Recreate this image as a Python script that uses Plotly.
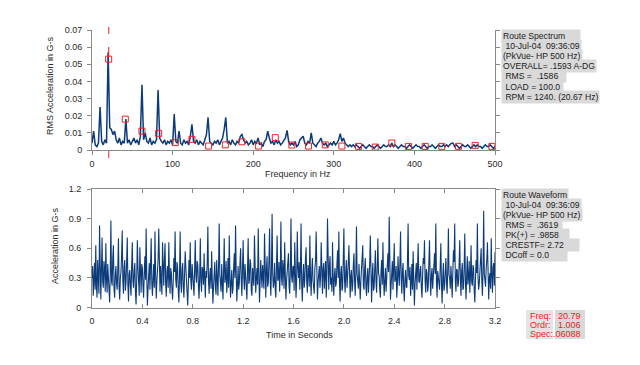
import numpy as np
import plotly.graph_objects as go

# ---------------- data ----------------
spec_step_hz = 2
spectrum_g = [
    0.004, 0.011, 0.003, 0.002, 0.004, 0.025, 0.005, 0.003, 0.006, 0.004,
    0.057, 0.013, 0.012, 0.009, 0.011, 0.006, 0.004, 0.007, 0.003, 0.005,
    0.004, 0.018, 0.004, 0.006, 0.003, 0.005, 0.007, 0.004, 0.006, 0.003,
    0.008, 0.038, 0.006, 0.010, 0.005, 0.004, 0.007, 0.003, 0.005, 0.004,
    0.006, 0.035, 0.007, 0.005, 0.004, 0.006, 0.003, 0.005, 0.004, 0.006,
    0.003, 0.021, 0.005, 0.004, 0.011, 0.004, 0.003, 0.006, 0.004, 0.005,
    0.003, 0.008, 0.015, 0.005, 0.004, 0.006, 0.003, 0.005, 0.004, 0.003,
    0.006, 0.009, 0.019, 0.005, 0.004, 0.003, 0.005, 0.004, 0.006, 0.003,
    0.005, 0.007, 0.012, 0.019, 0.004, 0.005, 0.003, 0.006, 0.004, 0.003,
    0.005, 0.004, 0.008, 0.009, 0.006, 0.004, 0.005, 0.003, 0.004, 0.006,
    0.003, 0.005, 0.004, 0.007, 0.003, 0.004, 0.002, 0.005, 0.006, 0.011,
    0.007, 0.004, 0.005, 0.003, 0.006, 0.004, 0.005, 0.003, 0.004, 0.006,
    0.007, 0.0115, 0.005, 0.003, 0.004, 0.003, 0.005, 0.002, 0.003, 0.006,
    0.007, 0.008, 0.004, 0.003, 0.005, 0.004, 0.010, 0.004, 0.003, 0.002,
    0.004, 0.005, 0.007, 0.004, 0.003, 0.004, 0.002, 0.003, 0.004, 0.003,
    0.005, 0.003, 0.004, 0.006, 0.0095, 0.005, 0.007, 0.004, 0.003, 0.002,
    0.003, 0.002, 0.003, 0.002, 0.003, 0.002, 0.001, 0.002, 0.003, 0.002,
    0.001, 0.002, 0.003, 0.002, 0.002, 0.001, 0.002, 0.003, 0.002, 0.001,
    0.002, 0.003, 0.002, 0.002, 0.003, 0.002, 0.004, 0.002, 0.003, 0.002,
    0.001, 0.002, 0.003, 0.002, 0.002, 0.001, 0.002, 0.003, 0.002, 0.001,
    0.002, 0.003, 0.002, 0.002, 0.001, 0.002, 0.003, 0.002, 0.001, 0.002,
    0.002, 0.003, 0.002, 0.001, 0.002, 0.003, 0.002, 0.002, 0.003, 0.002,
    0.003, 0.002, 0.003, 0.004, 0.004, 0.002, 0.003, 0.002, 0.001, 0.002,
    0.003, 0.002, 0.002, 0.003, 0.002, 0.001, 0.002, 0.003, 0.002, 0.003,
    0.002, 0.002, 0.001, 0.002, 0.003, 0.002, 0.002, 0.003, 0.002, 0.001,
    0.002,
]

harmonic_hz = [20.7, 41.3, 62.0, 82.7, 103.4, 124.0, 144.7, 165.4, 186.0, 206.7,
               227.4, 248.0, 268.7, 289.4, 310.0, 330.7, 351.4, 372.0, 392.7, 413.4,
               434.0, 454.7, 475.4, 496.1]
harmonic_g = [0.053, 0.018, 0.011, 0.0097, 0.0043, 0.0062, 0.0023, 0.003, 0.0048, 0.0023,
              0.0072, 0.0029, 0.0023, 0.003, 0.0023, 0.0021, 0.0017, 0.0041, 0.0021, 0.0021,
              0.0021, 0.0021, 0.0027, 0.0021]

cursor_hz = 20.79

wave_dt = 0.005
waveform_g = [
    0.30, 0.42, 0.12, 0.25, 0.45, 0.18, 0.63, 0.22, 0.10, 0.48, 0.35, 0.14, 0.83, 0.30, 0.08, 0.38, 0.71, 0.26, 0.20, 0.47,
    0.40, 0.16, 0.65, 0.28, 0.15, 0.44, 0.32, 0.11, 0.05, 0.36, 0.88, 0.27, 0.22, 0.50, 0.63, 0.19, 0.10, 0.33, 0.42, 0.24,
    0.18, 0.39, 0.70, 0.21, 0.08, 0.30, 0.36, 0.52, 0.78, 0.26, 0.14, 0.41, 0.48, 0.17, 0.25, 0.46, 0.71, 0.23, 0.06, 0.34,
    0.38, 0.22, 0.12, 0.43, 0.66, 0.27, 0.20, 0.37, 0.45, 0.15, 0.03, 0.29, 0.68, 0.40, 0.30, 0.12, 0.61, 0.33, 0.15, 0.44,
    0.40, 0.21, 0.10, 0.36, 0.52, 0.28, 0.80, 0.31, 0.02, 0.19, 0.35, 0.45, 0.18, 0.39, 0.70, 0.24, 0.12, 0.30, 0.44, 0.20,
    0.77, 0.34, 0.09, 0.26, 0.38, 0.49, 0.80, 0.29, 0.16, 0.42, 0.30, 0.13, 0.66, 0.35, 0.22, 0.47, 0.65, 0.24, 0.11, 0.37,
    0.42, 0.20, 0.66, 0.31, 0.14, 0.40, 0.35, 0.18, 0.08, 0.27, 0.50, 0.36, 0.77, 0.28, 0.20, 0.46, 0.40, 0.17, 0.05, 0.33,
    0.77, 0.25, 0.15, 0.38, 0.45, 0.21, 0.10, 0.33, 0.57, 0.41, 0.28, 0.12, 0.02, 0.24, 0.48, 0.30, 0.66, 0.27, 0.18, 0.44,
    0.36, 0.19, 0.12, 0.40, 0.68, 0.32, 0.25, 0.47, 0.43, 0.22, 0.09, 0.31, 0.70, 0.26, 0.16, 0.41, 0.38, 0.23, 0.55, 0.29,
    0.10, 0.37, 0.30, 0.45, 0.82, 0.27, 0.14, 0.33, 0.40, 0.19, 0.57, 0.28, 0.04, 0.21, 0.35, 0.46, 0.20, 0.13, 0.48, 0.31,
    0.12, 0.43, 0.85, 0.33, 0.22, 0.16, 0.44, 0.29, 0.08, 0.38, 0.70, 0.25, 0.30, 0.47, 0.15, 0.27, 0.50, 0.20, 0.73, 0.32,
    0.10, 0.26, 0.38, 0.14, 0.20, 0.41, 0.55, 0.30, 0.83, 0.35, 0.06, 0.23, 0.42, 0.18, 0.25, 0.45, 0.60, 0.28, 0.12, 0.39,
    0.68, 0.31, 0.18, 0.44, 0.36, 0.20, 0.08, 0.35, 0.70, 0.24, 0.28, 0.49, 0.45, 0.17, 0.12, 0.40, 0.30, 0.22, 0.73, 0.27,
    0.15, 0.29, 0.40, 0.23, 0.80, 0.36, 0.05, 0.26, 0.48, 0.32, 0.20, 0.43, 0.33, 0.19, 0.75, 0.30, 0.10, 0.37, 0.52, 0.21,
    0.25, 0.47, 0.80, 0.28, 0.12, 0.39, 0.95, 0.34, 0.20, 0.26, 0.45, 0.18, 0.10, 0.42, 0.73, 0.27, 0.30, 0.46, 0.16, 0.35,
    0.87, 0.30, 0.22, 0.48, 0.40, 0.19, 0.66, 0.33, 0.08, 0.27, 0.35, 0.44, 0.55, 0.21, 0.14, 0.38, 0.90, 0.32, 0.25, 0.41,
    0.42, 0.17, 0.66, 0.35, 0.10, 0.29, 0.77, 0.40, 0.30, 0.46, 0.18, 0.37, 0.85, 0.24, 0.06, 0.31, 0.44, 0.20, 0.28, 0.49,
    0.61, 0.26, 0.15, 0.43, 0.38, 0.21, 0.73, 0.30, 0.12, 0.36, 0.50, 0.27, 0.22, 0.14, 0.40, 0.47, 0.77, 0.32, 0.08, 0.25,
    0.35, 0.42, 0.20, 0.31, 0.66, 0.24, 0.14, 0.39, 0.45, 0.19, 0.28, 0.47, 0.10, 0.34, 0.90, 0.29, 0.18, 0.41, 0.52, 0.23,
    0.30, 0.16, 0.66, 0.28, 0.12, 0.33, 0.40, 0.21, 0.25, 0.44, 0.58, 0.30, 0.77, 0.26, 0.06, 0.35, 0.42, 0.17, 0.20, 0.48,
    0.80, 0.29, 0.15, 0.37, 0.48, 0.20, 0.30, 0.45, 0.63, 0.25, 0.10, 0.32, 0.38, 0.16, 0.22, 0.43, 0.55, 0.27, 0.12, 0.36,
    0.82, 0.34, 0.26, 0.19, 0.44, 0.29, 0.08, 0.27, 0.36, 0.48, 0.63, 0.22, 0.18, 0.39, 0.50, 0.21, 0.12, 0.31, 0.40, 0.15,
    0.28, 0.44, 0.73, 0.24, 0.05, 0.30, 0.45, 0.17, 0.20, 0.39, 0.58, 0.26, 0.15, 0.41, 0.70, 0.35, 0.32, 0.18, 0.10, 0.37,
    0.48, 0.23, 0.66, 0.31, 0.12, 0.27, 0.40, 0.16, 0.25, 0.43, 0.55, 0.36, 0.92, 0.30, 0.08, 0.22, 0.35, 0.47, 0.18, 0.33,
    0.65, 0.26, 0.30, 0.42, 0.10, 0.24, 0.52, 0.33, 0.22, 0.46, 0.77, 0.29, 0.14, 0.37, 0.45, 0.19, 0.06, 0.28, 0.38, 0.21,
    0.20, 0.47, 0.85, 0.32, 0.28, 0.41, 0.12, 0.25, 0.44, 0.18, 0.57, 0.30, 0.02, 0.23, 0.36, 0.45, 0.18, 0.34, 0.65, 0.27,
    0.25, 0.38, 0.42, 0.20, 0.10, 0.31, 0.50, 0.44, 0.68, 0.27, 0.15, 0.39, 0.35, 0.16, 0.22, 0.46, 0.68, 0.29, 0.12, 0.33,
    0.40, 0.19, 0.28, 0.47, 0.55, 0.34, 0.85, 0.26, 0.10, 0.37, 0.32, 0.21, 0.18, 0.42, 0.65, 0.24, 0.04, 0.30, 0.45, 0.17,
    0.22, 0.36, 0.50, 0.25, 0.14, 0.40, 0.80, 0.33, 0.30, 0.19, 0.42, 0.28, 0.10, 0.35, 0.58, 0.46, 0.85, 0.27, 0.16, 0.39,
    0.38, 0.21, 0.25, 0.44, 0.68, 0.29, 0.12, 0.36, 0.45, 0.18, 0.20, 0.41, 0.75, 0.27, 0.08, 0.33, 0.52, 0.23, 0.30, 0.47,
    0.15, 0.32, 0.63, 0.26, 0.22, 0.43, 0.40, 0.17, 0.05, 0.29, 0.48, 0.35, 0.85, 0.31, 0.18, 0.24, 0.35, 0.45, 0.60, 0.28,
    0.12, 0.37, 0.98, 0.34, 0.26, 0.21, 0.40, 0.48, 0.66, 0.25, 0.08, 0.30, 0.35, 0.19, 0.70, 0.33, 0.15, 0.41, 0.45, 0.22,
    0.56,
]

spec_ticks = [0, 100, 200, 300, 400, 500]
spec_yticks = [0, 0.01, 0.02, 0.03, 0.04, 0.05, 0.06, 0.07]
spec_yticktext = ["0", "0.01", "0.02", "0.03", "0.04", "0.05", "0.06", "0.07"]
wave_ticks = [0, 0.4, 0.8, 1.2, 1.6, 2.0, 2.4, 2.8, 3.2]
wave_ticktext = ["0", "0.4", "0.8", "1.2", "1.6", "2.0", "2.4", "2.8", "3.2"]
wave_yticks = [0, 0.3, 0.6, 0.9, 1.2]
wave_yticktext = ["0", "0.3", "0.6", "0.9", "1.2"]

spectrum_info = [
    "Route Spectrum\u00a0\u00a0\u00a0\u00a0\u00a0\u00a0",
    "\u00a010-Jul-04\u00a0\u00a009:36:09",
    "(PkVue- HP 500 Hz)",
    "OVERALL= .1593 A-DG",
    "\u00a0RMS =\u00a0\u00a0.1586\u00a0\u00a0\u00a0",
    "\u00a0LOAD = 100.0\u00a0",
    "\u00a0RPM = 1240. (20.67 Hz)",
]
waveform_info = [
    "Route Waveform",
    "\u00a010-Jul-04\u00a0\u00a009:36:09",
    "(PkVue- HP 500 Hz)",
    "\u00a0RMS =\u00a0\u00a0.3619\u00a0",
    "\u00a0PK(+) = .9858\u00a0\u00a0\u00a0\u00a0",
    "\u00a0CRESTF= 2.72\u00a0\u00a0\u00a0\u00a0\u00a0\u00a0",
    "\u00a0DCoff = 0.0\u00a0\u00a0\u00a0\u00a0\u00a0\u00a0\u00a0",
]
cursor_labels = ["Freq:", "Ordr:", "Spec:"]
cursor_values = ["20.79", "1.006", ".06088"]

# ---------------- figure ----------------
# the page body adds an 8px offset, so the figure is laid out in window pixels
OFF = 8
W, H = 624, 349
def px(x):
    return (x - OFF) / W
def py(y):
    return (H - (y - OFF)) / H

freq = np.arange(len(spectrum_g)) * spec_step_hz
t = np.arange(len(waveform_g)) * wave_dt

BLUE = "#0c3b7a"
RED = "#ee2222"
AXC = "#8a8a8a"
TXT = "#2a2a2a"
FONT = "Arial, Liberation Sans, sans-serif"
GRAYBG = "#d9d9d9"

fig = go.Figure()
fig.add_trace(go.Scatter(x=freq, y=spectrum_g, mode="lines",
                         line=dict(color=BLUE, width=1.5), xaxis="x", yaxis="y",
                         showlegend=False, hoverinfo="skip"))
fig.add_trace(go.Scatter(x=harmonic_hz, y=harmonic_g, mode="markers",
                         marker=dict(symbol="square-open", size=6, color=RED,
                                     line=dict(width=1, color=RED)),
                         xaxis="x", yaxis="y", showlegend=False, hoverinfo="skip"))
fig.add_trace(go.Scatter(x=t, y=waveform_g, mode="lines",
                         line=dict(color=BLUE, width=1.1), xaxis="x2", yaxis="y2",
                         showlegend=False, hoverinfo="skip"))

xdom = [px(92), px(495)]
common_tick = dict(tickfont=dict(family=FONT, size=9, color=TXT), showgrid=False,
                   zeroline=False, showline=True, linecolor=AXC, linewidth=1,
                   tickcolor=AXC, ticklen=4, tickwidth=1, automargin=False)

fig.update_layout(
    width=W, height=H, margin=dict(l=0, r=0, t=0, b=0),
    paper_bgcolor="white", plot_bgcolor="white",
    xaxis=dict(domain=xdom, range=[0, 500], tickvals=spec_ticks, ticks="outside",
               anchor="y", ticklabelstandoff=1, **common_tick),
    yaxis=dict(domain=[py(150), py(30)], range=[0, 0.07], tickvals=spec_yticks,
               ticktext=spec_yticktext, ticks="outside", mirror="ticks",
               anchor="x", ticklabelstandoff=3, **common_tick),
    xaxis2=dict(domain=xdom, range=[0, 3.2], tickvals=wave_ticks, ticktext=wave_ticktext,
                ticks="inside", mirror="ticks", anchor="y2", ticklabelstandoff=5,
                **common_tick),
    yaxis2=dict(domain=[py(307.5), py(189)], range=[0, 1.2], tickvals=wave_yticks,
                ticktext=wave_yticktext, ticks="outside", mirror="ticks",
                anchor="x2", ticklabelstandoff=4, **common_tick),
)

ann = []
title_font = dict(family=FONT, size=9, color=TXT)
ann.append(dict(text="RMS Acceleration in G-s", x=px(50), y=py(86), xref="paper", yref="paper",
                xanchor="center", yanchor="middle",
                textangle=-90, showarrow=False, font=title_font))
ann.append(dict(text="Acceleration in G-s", x=px(55), y=py(246), xref="paper", yref="paper",
                xanchor="center", yanchor="middle",
                textangle=-90, showarrow=False, font=title_font))
ann.append(dict(text="Frequency in Hz", x=px(298), y=py(174), xref="paper", yref="paper",
                xanchor="center", yanchor="middle", showarrow=False, font=title_font))
ann.append(dict(text="Time in Seconds", x=px(299), y=py(335), xref="paper", yref="paper",
                xanchor="center", yanchor="middle", showarrow=False, font=title_font))

INFO_SIZE = 8.6
def info_block(lines, y0, step):
    for i, s in enumerate(lines):
        ann.append(dict(text=s, x=px(501), y=py(y0 + i * step), xref="paper", yref="paper",
                        xanchor="left", yanchor="middle", showarrow=False,
                        bgcolor=GRAYBG, borderpad=1,
                        font=dict(family=FONT, size=INFO_SIZE, color=GRAYBG)))
    for i, s in enumerate(lines):
        ann.append(dict(text=s, x=px(501), y=py(y0 + i * step), xref="paper", yref="paper",
                        xanchor="left", yanchor="middle", showarrow=False, borderpad=1,
                        font=dict(family=FONT, size=INFO_SIZE, color="#222222")))

info_block(spectrum_info, 36, 10.1)
info_block(waveform_info, 195, 10)

for i, (lab, val) in enumerate(zip(cursor_labels, cursor_values)):
    yy = py(316 + i * 9)
    ann.append(dict(text=lab, x=px(528), y=yy, xref="paper", yref="paper",
                    xanchor="left", yanchor="middle", showarrow=False,
                    font=dict(family=FONT, size=9, color=RED)))
    ann.append(dict(text=val, x=px(583), y=yy, xref="paper", yref="paper",
                    xanchor="right", yanchor="middle", showarrow=False,
                    font=dict(family=FONT, size=9, color=RED)))

shapes = [
    dict(type="rect", xref="paper", yref="paper", x0=px(526), x1=px(553), y0=py(339), y1=py(310),
         fillcolor="#e4e4e4", line=dict(width=0), layer="below"),
    dict(type="rect", xref="paper", yref="paper", x0=px(555), x1=px(585), y0=py(339), y1=py(310),
         fillcolor=GRAYBG, line=dict(width=0), layer="below"),
]
for (a, b) in [(27, 34), (47, 57), (151, 158)]:
    shapes.append(dict(type="line", xref="x", yref="paper", x0=cursor_hz, x1=cursor_hz,
                       y0=py(b), y1=py(a), line=dict(color=RED, width=1)))

fig.update_layout(annotations=ann, shapes=shapes)
fig.write_html("out.html")
